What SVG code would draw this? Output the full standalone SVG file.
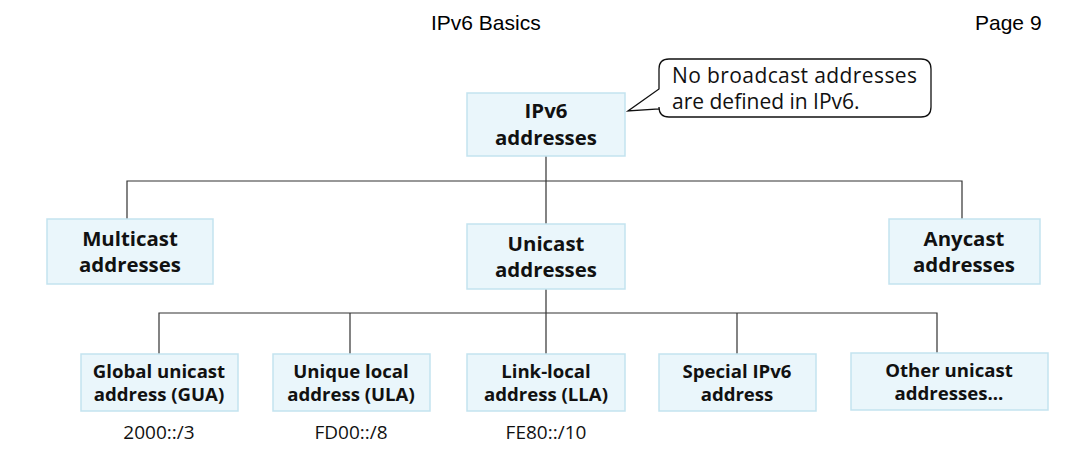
<svg xmlns="http://www.w3.org/2000/svg" width="1065" height="452" viewBox="0 0 1065 452">
<style>
.hdr{font-family:"Liberation Sans",Arial,sans-serif;font-size:21px;fill:#000}
.box{fill:#eaf6fb;stroke:#c3e3ef;stroke-width:1.5}
.t1{font-family:"Open Sans","Noto Sans",sans-serif;font-weight:bold;font-size:20.4px;fill:#111;text-anchor:middle}
.t2{font-family:"Open Sans","Noto Sans",sans-serif;font-weight:bold;font-size:18.6px;fill:#111;text-anchor:middle}
.pre{font-family:"Open Sans","Noto Sans",sans-serif;font-size:19px;fill:#111;text-anchor:middle}
.call{font-family:"Open Sans","Noto Sans",sans-serif;font-size:21px;fill:#111}
.ln{fill:none;stroke:#333;stroke-width:1.2}
</style>
<rect width="1065" height="452" fill="#fff"/>
<text class="hdr" x="431" y="30">IPv6 Basics</text>
<text class="hdr" x="975" y="30">Page 9</text>
<g id="connectors">
<path class="ln" d="M546 156V181M127 219V181H962V219M546 181V224"/>
<path class="ln" d="M546 289V313M159 354V313H937V353M350 354V313M546 313V354M737 313V354"/>
</g>
<g id="callout">
<path d="M669 59H921Q931 59 931 69V107Q931 117 921 117H669Q659 117 659 107V109L628 111L659 89V69Q659 59 669 59Z" fill="#fff" stroke="#111" stroke-width="1.3"/>
<text class="call" x="672" y="83" textLength="245">No broadcast addresses</text>
<text class="call" x="672" y="109">are defined in IPv6.</text>
</g>
<g id="ipv6">
<rect class="box" x="467" y="93" width="158" height="63"/>
<text class="t1" x="546" y="118">IPv6</text>
<text class="t1" x="546" y="145">addresses</text>
</g>
<g id="multicast">
<rect class="box" x="47" y="219" width="166" height="65"/>
<text class="t1" x="130" y="246">Multicast</text>
<text class="t1" x="130" y="272">addresses</text>
</g>
<g id="unicast">
<rect class="box" x="467" y="224" width="158" height="65"/>
<text class="t1" x="546" y="251">Unicast</text>
<text class="t1" x="546" y="277">addresses</text>
</g>
<g id="anycast">
<rect class="box" x="889" y="219" width="151" height="65"/>
<text class="t1" x="964" y="246">Anycast</text>
<text class="t1" x="964" y="272">addresses</text>
</g>
<g id="gua">
<rect class="box" x="81" y="354" width="157" height="57"/>
<text class="t2" x="159" y="378">Global unicast</text>
<text class="t2" x="159" y="401">address (GUA)</text>
<text class="pre" x="159" y="439">2000::/3</text>
</g>
<g id="ula">
<rect class="box" x="273" y="354" width="157" height="57"/>
<text class="t2" x="351" y="378">Unique local</text>
<text class="t2" x="351" y="401">address (ULA)</text>
<text class="pre" x="351" y="439">FD00::/8</text>
</g>
<g id="lla">
<rect class="box" x="467" y="354" width="158" height="57"/>
<text class="t2" x="546" y="378">Link-local</text>
<text class="t2" x="546" y="401">address (LLA)</text>
<text class="pre" x="546" y="439">FE80::/10</text>
</g>
<g id="special">
<rect class="box" x="659" y="354" width="157" height="57"/>
<text class="t2" x="737" y="378">Special IPv6</text>
<text class="t2" x="737" y="401">address</text>
</g>
<g id="other">
<rect class="box" x="851" y="353" width="197" height="57"/>
<text class="t2" x="949" y="377">Other unicast</text>
<text class="t2" x="949" y="400">addresses...</text>
</g>
</svg>
